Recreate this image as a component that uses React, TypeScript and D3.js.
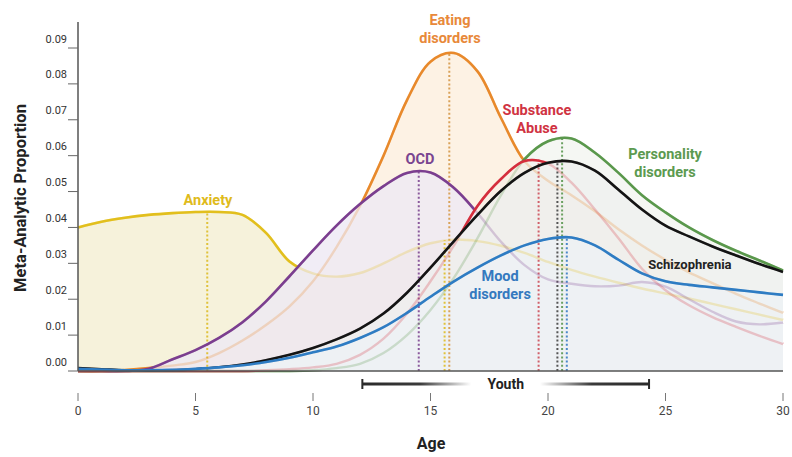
import React from 'react';
import * as d3 from 'd3';

// ages sampled along the x axis
const ages = [0, 1, 2, 3, 4, 5, 6, 7, 8, 9, 10, 11, 12, 13, 14, 15, 16, 17, 18, 19, 20, 21, 22, 23, 24, 25, 26, 27, 28, 29, 30];

// meta-analytic proportion per age
const anxiety = [0.0400, 0.0416, 0.0427, 0.0435, 0.0440, 0.0443, 0.0443, 0.0435, 0.0385, 0.0305, 0.0272, 0.0263, 0.0273, 0.0300, 0.0332, 0.0356, 0.0366, 0.0362, 0.0349, 0.0329, 0.0304, 0.0282, 0.0263, 0.0246, 0.0230, 0.0216, 0.0202, 0.0187, 0.0172, 0.0157, 0.0142];
const eating = [0, 0, 0.0003, 0.0008, 0.0015, 0.0025, 0.0050, 0.0085, 0.0128, 0.0180, 0.0250, 0.0345, 0.0460, 0.0600, 0.0755, 0.0862, 0.0886, 0.0835, 0.0705, 0.0585, 0.0530, 0.0490, 0.0445, 0.0395, 0.0350, 0.0310, 0.0275, 0.0245, 0.0215, 0.0188, 0.0162];
const ocd = [0, 0, 0, 0.0006, 0.0032, 0.0058, 0.0092, 0.0136, 0.0194, 0.0264, 0.0336, 0.0405, 0.0465, 0.0515, 0.0552, 0.0553, 0.0510, 0.0440, 0.0360, 0.0295, 0.0255, 0.0243, 0.0236, 0.0238, 0.0248, 0.0235, 0.0200, 0.0165, 0.0138, 0.0130, 0.0135];
const personality = [0, 0, 0, 0, 0, 0, 0, 0, 0, 0, 0.0002, 0.0008, 0.0020, 0.0050, 0.0100, 0.0170, 0.0260, 0.0370, 0.0490, 0.0590, 0.0640, 0.0648, 0.0608, 0.0552, 0.0490, 0.0442, 0.0400, 0.0365, 0.0335, 0.0308, 0.0280];
const substance = [0, 0, 0, 0, 0, 0, 0, 0, 0.0002, 0.0005, 0.0010, 0.0020, 0.0045, 0.0090, 0.0160, 0.0250, 0.0350, 0.0460, 0.0535, 0.0585, 0.0578, 0.0525, 0.0450, 0.0370, 0.0285, 0.0225, 0.0183, 0.0150, 0.0123, 0.0098, 0.0075];
const schizophrenia = [0.0008, 0.0005, 0.0002, 0.0001, 0.0002, 0.0005, 0.0010, 0.0018, 0.0030, 0.0045, 0.0064, 0.0088, 0.0118, 0.0160, 0.0218, 0.0288, 0.0362, 0.0435, 0.0502, 0.0552, 0.0580, 0.0584, 0.0558, 0.0505, 0.0450, 0.0405, 0.0375, 0.0347, 0.0322, 0.0298, 0.0276];
const mood = [0.0006, 0.0004, 0.0002, 0.0002, 0.0003, 0.0006, 0.0010, 0.0016, 0.0025, 0.0037, 0.0052, 0.0068, 0.0092, 0.0122, 0.0162, 0.0207, 0.0250, 0.0288, 0.0322, 0.0350, 0.0368, 0.0372, 0.0350, 0.0310, 0.0272, 0.0250, 0.0240, 0.0233, 0.0226, 0.0219, 0.0212];

const yTicks = [0, 0.01, 0.02, 0.03, 0.04, 0.05, 0.06, 0.07, 0.08, 0.09];
const xTicks = [0, 5, 10, 15, 20, 25, 30];

// dotted lines at the peaks
const markerSeries = ['anxiety', 'anxiety', 'eating', 'ocd', 'substance', 'schizophrenia', 'personality', 'mood'];
const markerAges = [5.5, 15.6, 15.8, 14.5, 19.6, 20.4, 20.6, 20.8];
const markerValues = [0.0443, 0.0365, 0.0888, 0.0556, 0.0589, 0.0586, 0.0651, 0.0372];

const youthRange = [12.1, 24.3];

// label text + anchor (age, proportion)
const labelSeries = ['anxiety', 'eating', 'ocd', 'substance', 'personality', 'schizophrenia', 'mood'];
const labelLines = [['Anxiety'], ['Eating', 'disorders'], ['OCD'], ['Substance', 'Abuse'], ['Personality', 'disorders'], ['Schizophrenia'], ['Mood', 'disorders']];
const labelAges = [5.53, 15.83, 14.55, 19.53, 24.98, 26.04, 17.96];
const labelValues = [0.0474, 0.0978, 0.0588, 0.0727, 0.0604, 0.0298, 0.0262];

const W = 792;
const H = 457;
const FONT = "Roboto, 'Liberation Sans', Arial, sans-serif";

const series = [
  { key: 'anxiety', values: anxiety, stroke: '#e2bf1d', text: '#dfbb1c', dot: '#e0c23a', fill: '#eee6b8', fo: 0.5 },
  { key: 'eating', values: eating, stroke: '#e8892b', text: '#e8893a', dot: '#d9a25a', fill: '#fbe2c3', fo: 0.45 },
  { key: 'ocd', values: ocd, stroke: '#7b3e8f', text: '#7a4590', dot: '#8a5a9c', fill: '#eee9f4', fo: 0.8 },
  { key: 'personality', values: personality, stroke: '#5a984c', text: '#5c9a50', dot: '#6aa060', fill: '#ecf1ea', fo: 0.55 },
  { key: 'substance', values: substance, stroke: '#d52e3d', text: '#d03342', dot: '#d0606a', fill: '#f4ecec', fo: 0.3 },
  { key: 'schizophrenia', values: schizophrenia, stroke: '#141414', text: '#222222', dot: '#555555', fill: '#eef0ee', fo: 0.7 },
  { key: 'mood', values: mood, stroke: '#2e7cc3', text: '#3479bf', dot: '#4a88c8', fill: '#edf2f6', fo: 0.75 },
];

export default function App() {
  const x = d3.scaleLinear().domain([0, 30]).range([78, 783]);
  const y = d3.scaleLinear().domain([0, 0.09]).range([371, 48]);
  const curve = d3.curveCatmullRom.alpha(0.5);

  const line = d3.line<number>()
    .x((_, i) => x(ages[i]))
    .y(d => y(Math.max(0, d)))
    .curve(curve);
  const area = d3.area<number>()
    .x((_, i) => x(ages[i]))
    .y0(y(0))
    .y1(d => y(Math.max(0, d)))
    .curve(curve);

  const byKey: Record<string, typeof series[number]> = {};
  series.forEach(s => { byKey[s.key] = s; });

  return (
    <svg width={W} height={H} style={{ position: 'absolute', left: 0, top: 0, background: '#fff' }} fontFamily={FONT}>
      <defs>
        {series.map((s, i) => (
          <mask key={s.key} id={`mask-${s.key}`} maskUnits="userSpaceOnUse" x={0} y={0} width={W} height={H}>
            <rect x={0} y={0} width={W} height={H} fill="#fff" />
            {series.slice(i + 1).map(o => (
              <path key={o.key} d={area(o.values) || ''} fill="#000" />
            ))}
          </mask>
        ))}
        <linearGradient id="youthGrad" x1="0" x2="1" y1="0" y2="0">
          <stop offset="0" stopColor="#2a2a2a" />
          <stop offset="0.2" stopColor="#3a3a3a" />
          <stop offset="0.38" stopColor="#ffffff" />
          <stop offset="0.62" stopColor="#ffffff" />
          <stop offset="0.8" stopColor="#3a3a3a" />
          <stop offset="1" stopColor="#2a2a2a" />
        </linearGradient>
      </defs>

      {/* filled areas */}
      {series.map(s => (
        <path key={s.key} d={area(s.values) || ''} fill={s.fill} fillOpacity={s.fo} />
      ))}

      {/* peak markers */}
      {markerSeries.map((k, i) => (
        <line key={i} x1={x(markerAges[i])} x2={x(markerAges[i])} y1={y(0)} y2={y(markerValues[i])}
          stroke={byKey[k].dot} strokeWidth={2} strokeDasharray="2 2.2" />
      ))}

      {/* faded parts of the curves */}
      {series.map(s => (
        <path key={s.key} d={line(s.values) || ''} fill="none" stroke={s.stroke} strokeWidth={2.4} strokeOpacity={0.25} />
      ))}
      {/* visible parts */}
      {series.map(s => (
        <path key={s.key} d={line(s.values) || ''} fill="none" stroke={s.stroke} strokeWidth={2.6}
          strokeLinejoin="round" mask={`url(#mask-${s.key})`} />
      ))}

      {/* axes */}
      <line x1={78} x2={78} y1={22} y2={y(0)} stroke="#555" strokeWidth={1.5} />
      <line x1={78} x2={x(30)} y1={y(0)} y2={y(0)} stroke="#555" strokeWidth={1.5} />
      {yTicks.map(t => (
        <g key={t}>
          <line x1={68} x2={78} y1={y(t)} y2={y(t)} stroke="#666" strokeWidth={1} />
          <text x={67} y={y(t) - 9} textAnchor="end" dominantBaseline="central" fontSize={11} fill="#333">
            {t.toFixed(2)}
          </text>
        </g>
      ))}
      {xTicks.map(t => (
        <g key={t}>
          <line x1={x(t)} x2={x(t)} y1={393} y2={401} stroke="#777" strokeWidth={1} />
          <text x={x(t)} y={411} textAnchor="middle" dominantBaseline="central" fontSize={12} fill="#444">{t}</text>
        </g>
      ))}

      {/* youth bracket */}
      <rect x={x(youthRange[0])} y={382.5} width={x(youthRange[1]) - x(youthRange[0])} height={3} fill="url(#youthGrad)" />
      <line x1={x(youthRange[0])} x2={x(youthRange[0])} y1={379} y2={389} stroke="#2a2a2a" strokeWidth={2} />
      <line x1={x(youthRange[1])} x2={x(youthRange[1])} y1={379} y2={389} stroke="#2a2a2a" strokeWidth={2} />
      <text x={x((youthRange[0] + youthRange[1]) / 2)} y={384} textAnchor="middle" dominantBaseline="central"
        fontSize={14} fontWeight={700} fill="#222">Youth</text>

      {/* axis titles */}
      <text x={431} y={443} textAnchor="middle" dominantBaseline="central" fontSize={16} fontWeight={700} fill="#222">Age</text>
      <text transform="translate(20,198) rotate(-90)" textAnchor="middle" dominantBaseline="central"
        fontSize={16.5} fontWeight={700} fill="#222">Meta-Analytic Proportion</text>

      {/* series labels */}
      {labelSeries.map((k, i) => (
        <text key={k} x={x(labelAges[i])} textAnchor="middle" fontSize={k === 'schizophrenia' ? 13 : 14.5}
          fontWeight={700} fill={byKey[k].text}>
          {labelLines[i].map((t, j) => (
            <tspan key={j} x={x(labelAges[i])} y={y(labelValues[i]) + j * 18} dominantBaseline="central">{t}</tspan>
          ))}
        </text>
      ))}
    </svg>
  );
}
